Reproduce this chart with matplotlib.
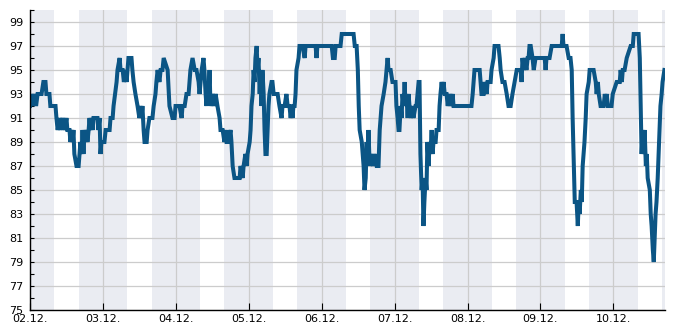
import matplotlib
matplotlib.use("Agg")
import matplotlib.pyplot as plt
from matplotlib.ticker import FixedLocator, MultipleLocator

# hours since 02.12. 00:00
hours = [
    0, 0.2, 0.8, 1.5, 2.0, 2.5, 3.8, 4.4, 5.1, 5.4, 6.4, 6.7, 8.4, 8.7, 9.1, 9.7, 10.0, 10.7, 11.4, 12.0,
    12.3, 13.0, 13.3, 13.7, 14.0, 14.3, 14.6, 15.3, 16.0, 16.3, 16.6, 17.0, 17.3, 17.6, 17.9, 18.3, 18.6,
    18.9, 19.3, 19.6, 19.9, 20.2, 20.6, 20.9, 21.6, 22.2, 22.5, 22.9, 23.2, 23.5, 24.5, 24.9, 25.5, 26.2,
    26.5, 27.2, 27.5, 28.0, 28.5, 28.8, 29.5, 29.8, 30.5, 30.9, 31.4, 31.8, 32.1, 32.4, 33.4, 33.7, 34.1,
    34.7, 35.4, 36.0, 36.4, 36.7, 37.0, 37.4, 37.7, 38.4, 38.7, 39.3, 40.3, 40.7, 41.3, 41.6, 42.0, 42.6,
    43.0, 43.6, 44.0, 45.3, 45.9, 46.9, 47.6, 47.9, 49.2, 49.9, 50.2, 50.9, 51.5, 52.2, 52.8, 53.5, 54.2,
    54.8, 55.5, 55.8, 56.5, 57.1, 57.4, 57.8, 58.1, 58.4, 58.8, 59.1, 59.4, 60.1, 60.7, 61.1, 61.7, 62.4,
    62.7, 63.4, 64.0, 64.4, 64.7, 65.3, 66.0, 66.3, 66.7, 67.3, 68.3, 69.0, 69.3, 70.0, 70.3, 70.9, 71.3,
    71.6, 72.3, 72.6, 72.9, 73.3, 73.6, 73.9, 74.2, 74.6, 74.9, 75.2, 75.6, 75.9, 76.2, 76.5, 76.9, 77.2,
    77.5, 77.9, 78.2, 78.5, 78.8, 79.5, 79.8, 80.2, 81.5, 82.1, 82.8, 83.1, 83.8, 84.4, 84.8, 85.4, 85.8,
    86.1, 86.4, 86.7, 87.1, 87.4, 87.7, 88.4, 88.7, 89.7, 90.4, 90.7, 94.0, 94.3, 94.6, 99.3, 99.7, 100.3,
    100.6, 102.2, 102.6, 106.5, 106.9, 107.5, 107.9, 108.2, 108.5, 109.2, 109.5, 109.8, 110.1, 110.5, 110.8,
    111.1, 111.4, 111.8, 112.1, 112.8, 113.4, 114.1, 114.7, 115.1, 115.7, 116.4, 117.0, 117.7, 118.0, 118.7,
    119.3, 120.3, 120.6, 121.0, 121.3, 121.6, 122.0, 122.3, 122.6, 123.0, 123.3, 123.6, 123.9, 124.3, 124.6,
    124.9, 125.3, 125.9, 126.2, 126.9, 127.2, 127.9, 128.2, 128.5, 128.9, 129.2, 129.5, 129.8, 130.2, 130.5,
    130.8, 131.2, 131.5, 131.8, 132.2, 132.5, 132.8, 133.2, 133.5, 133.8, 134.5, 134.8, 135.1, 135.5, 135.8,
    136.1, 136.5, 137.1, 137.5, 137.8, 138.1, 138.4, 138.8, 139.1, 139.4, 140.1, 145.3, 145.7, 146.3, 148.0,
    148.3, 148.6, 149.3, 149.6, 150.3, 150.6, 151.6, 151.9, 152.6, 152.9, 154.2, 154.6, 154.9, 155.5, 156.2,
    156.9, 157.5, 158.2, 158.8, 159.5, 160.2, 161.5, 161.8, 162.1, 162.5, 162.8, 163.4, 163.8, 164.1, 164.4,
    164.8, 165.4, 165.8, 166.4, 169.4, 169.7, 170.0, 171.0, 171.7, 175.0, 175.3, 175.6, 176.6, 177.3, 177.9,
    178.3, 178.6, 178.9, 179.3, 179.9, 180.3, 180.6, 180.9, 181.3, 181.6, 181.9, 182.2, 182.5, 182.9, 183.2,
    183.9, 184.2, 185.5, 186.2, 186.5, 186.9, 187.2, 187.8, 188.8, 189.2, 189.5, 189.8, 190.2, 191.4, 191.8,
    193.1, 193.4, 194.1, 194.4, 194.8, 195.1, 195.7, 196.4, 197.7, 198.4, 198.7, 200.3, 200.7, 201.0, 201.3,
    201.7, 202.0, 202.3, 202.7, 203.0, 203.3, 204.0, 204.3, 204.6, 205.0, 205.3, 205.6, 205.9, 206.2, 206.6,
    206.9, 207.2, 207.5, 207.9, 208.2, 208.8,
]
values = [
    92, 93, 92, 93, 92, 93, 93, 94, 94, 93, 93, 92, 92, 91, 90, 91, 90, 91, 90, 91,
    90, 90, 89, 90, 89, 90, 88, 87, 87, 88, 89, 88, 90, 88, 90, 89, 90,
    89, 90, 91, 90, 91, 90, 91, 91, 91, 90, 91, 88, 89, 89, 90, 90, 90,
    91, 91, 92, 93, 94, 95, 96, 95, 95, 94, 95, 94, 95, 96, 96, 95, 94,
    93, 92, 91, 92, 91, 92, 90, 89, 89, 90, 91, 91, 92, 93, 94, 95, 94,
    95, 95, 96, 95, 92, 91, 91, 92, 92, 91, 92, 92, 93, 93, 95, 96, 95,
    95, 94, 93, 95, 96, 95, 93, 92, 94, 93, 95, 92, 93, 92, 93, 92, 91,
    90, 90, 89, 90, 89, 89, 90, 89, 87, 86, 86, 86, 87, 86, 87, 88, 87,
    88, 89, 90, 92, 93, 95, 94, 96, 97, 95, 96, 93, 95, 92, 95, 93, 90,
    88, 88, 90, 92, 93, 94, 94, 93, 93, 92, 91, 92, 92, 93, 92, 92, 91,
    92, 91, 92, 92, 93, 95, 96, 97, 97, 96, 97, 97, 96, 97, 97, 96, 96,
    97, 97, 98, 98, 97, 97, 95, 92, 90, 89, 88, 87, 85, 86, 89,
    87, 90, 87, 88, 87, 88, 87, 87, 90, 92, 93, 94, 96, 95, 95,
    94, 94, 92, 91, 90, 90, 92, 91, 93, 92, 94, 92, 93, 91, 93,
    92, 91, 92, 91, 92, 92, 94, 94, 88, 85, 86, 82, 84, 86, 85,
    89, 87, 89, 88, 90, 88, 89, 89, 89, 90, 90, 92, 93, 94, 93,
    94, 93, 93, 92, 93, 92, 93, 92, 93, 92, 92, 92, 93, 95, 95,
    94, 93, 93, 94, 93, 94, 94, 95, 96, 97, 97, 96, 95, 94, 94,
    93, 92, 92, 93, 94, 95, 95, 94, 96, 95, 96, 95, 96, 96, 97,
    97, 96, 95, 96, 96, 95, 96, 96, 97, 97, 98, 97, 97, 96, 96,
    95, 91, 88, 84, 84, 82, 84, 83, 85, 84, 87, 88, 89, 91, 93,
    94, 95, 95, 94, 93, 94, 93, 92, 92, 93, 92, 93, 92, 92, 93,
    94, 94, 94, 95, 94, 95, 95, 96, 97, 97, 98, 98, 96, 92, 88,
    90, 88, 90, 87, 88, 86, 85, 83, 82, 80, 79, 81, 83, 84, 86,
    88, 90, 92, 93, 94, 95,
]

day_ticks = [0, 24, 48, 72, 96, 120, 144, 168, 192]
day_labels = ["02.12.", "03.12.", "04.12.", "05.12.", "06.12.", "07.12.", "08.12.", "09.12.", "10.12."]
first_label = "01.12."
# night bands (16:00 - 08:00)
band_starts = [0, 16, 40, 64, 88, 112, 136, 160, 184, 208]
band_ends = [8, 32, 56, 80, 104, 128, 152, 176, 200, 224]

x_max = 209
y_min, y_max = 75, 100

fig = plt.figure(figsize=(6.85, 3.3), dpi=100)
ax = fig.add_axes([30 / 685, 20 / 330, 635 / 685, 300 / 330])

for s, e in zip(band_starts, band_ends):
    ax.axvspan(s, e, color="#eaecf2", lw=0, zorder=0)

ax.plot(hours, values, color="#0b5585", lw=2.9, zorder=3, solid_joinstyle="miter")

ax.set_xlim(0, x_max)
ax.set_ylim(y_min, y_max)

ax.yaxis.set_major_locator(FixedLocator(list(range(75, 100, 2))))
ax.yaxis.set_minor_locator(MultipleLocator(1))
ax.xaxis.set_major_locator(FixedLocator(day_ticks))
ax.set_xticklabels(day_labels)
ax.xaxis.set_minor_locator(FixedLocator([0]))
ax.set_xticklabels([first_label], minor=True)

ax.grid(True, which="major", color="#cccccc", lw=0.9, zorder=1)
ax.set_axisbelow(True)

for sp in ["top", "right"]:
    ax.spines[sp].set_visible(False)
for sp in ["left", "bottom"]:
    ax.spines[sp].set_color("black")
    ax.spines[sp].set_linewidth(1.0)
    ax.spines[sp].set_zorder(4)

ax.tick_params(axis="y", which="both", direction="in", length=3, width=0.8, labelsize=8, pad=5)
ax.tick_params(axis="x", which="major", direction="in", length=5, width=0.8, labelsize=8, pad=3)
ax.tick_params(axis="x", which="minor", direction="in", length=0, labelsize=8, pad=3)

fig.savefig("out.png", dpi=100)
